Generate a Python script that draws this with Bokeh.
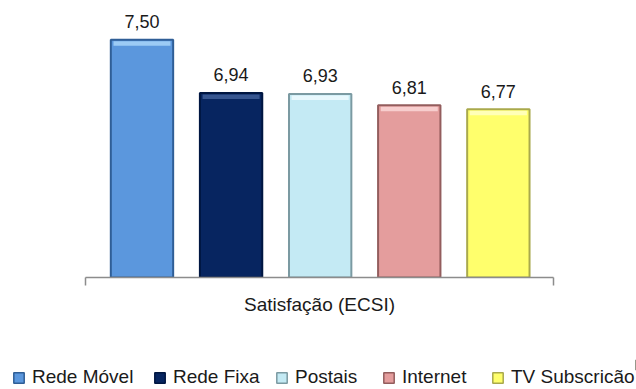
from bokeh.plotting import figure
from bokeh.layouts import column
from bokeh.models import (ColumnDataSource, Range1d, LinearAxis, FixedTicker,
                          Legend, LegendItem)
from bokeh.core.properties import value
from bokeh.embed import file_html
from bokeh.resources import INLINE

# Satisfação (ECSI) por serviço
categorias = ["Rede Móvel", "Rede Fixa", "Postais", "Internet", "TV Subscricão"]
satisfacao = [7.50, 6.94, 6.93, 6.81, 6.77]

cores = ["#5B97DD", "#072560", "#C4EAF4", "#E49D9D", "#FFFF6C"]
contornos = ["#2F5E96", "#001641", "#7B9AA2", "#935D5D", "#A9A94C"]
realces = ["#A3D0F7", "#3D5C96", "#ECFAFE", "#F8D4D4", "#FFFFC0"]

FONT = value("Liberation Sans")
BASE = 5.0
TOPO = 7.912
X0, X1 = 0.366, 5.619

p = figure(width=636, height=340, output_backend="svg", toolbar_location=None,
           x_range=Range1d(X0, X1), y_range=Range1d(BASE, TOPO),
           x_axis_location=None, y_axis_location=None,
           min_border_left=85, min_border_right=83,
           min_border_top=0, min_border_bottom=63)
p.frame_align = False
p.outline_line_color = None
p.xgrid.visible = False
p.ygrid.visible = False

posicoes = list(range(1, len(categorias) + 1))
px_por_unidade = 277 / (TOPO - BASE)

for i, v in enumerate(satisfacao):
    x = posicoes[i]
    p.vbar(x=[x], top=[v], bottom=BASE - 0.03, width=0.70,
           fill_color=cores[i], line_color=contornos[i], line_width=2)
    # faixa de brilho no topo da barra
    p.vbar(x=[x], top=[v - 1.5 / px_por_unidade], bottom=[v - 6 / px_por_unidade],
           width=0.64, fill_color=realces[i], line_color=None, fill_alpha=0.9)

rotulos = [f"{v:.2f}".replace(".", ",") for v in satisfacao]
src = ColumnDataSource(dict(x=posicoes, y=satisfacao, t=rotulos))
p.text(x="x", y="y", text="t", source=src, text_align="center",
       text_baseline="alphabetic", y_offset=-18, text_font=FONT,
       text_font_size="18px", text_color="#1A1A1A")

# eixo horizontal: linha de base com traços só nas extremidades
eixo = LinearAxis(ticker=FixedTicker(ticks=[], minor_ticks=[X0, X1]))
eixo.axis_line_color = "#8C8C8C"
eixo.axis_line_width = 1.5
eixo.major_tick_line_color = None
eixo.minor_tick_line_color = "#8C8C8C"
eixo.minor_tick_line_width = 1.5
eixo.minor_tick_out = 8
eixo.minor_tick_in = 0
eixo.axis_label = "Satisfação (ECSI)"
eixo.axis_label_text_font = "Liberation Sans"
eixo.axis_label_text_font_style = "normal"
eixo.axis_label_text_font_size = "19px"
eixo.axis_label_text_color = "#1A1A1A"
eixo.axis_label_standoff = 8
p.add_layout(eixo, "below")

# legenda numa faixa própria por baixo do gráfico
leg = figure(width=636, height=49, output_backend="svg", toolbar_location=None,
             x_range=Range1d(0, 1), y_range=Range1d(0, 1),
             x_axis_location=None, y_axis_location=None,
             min_border=0)
leg.frame_align = False
leg.outline_line_color = None
leg.xgrid.visible = False
leg.ygrid.visible = False

inicio_itens = [12, 153, 275, 382, 491]
for i, cat in enumerate(categorias):
    # barra fora da área visível; só serve de amostra para a legenda
    r = leg.vbar(x=[3], top=[0.6], bottom=[0.4], width=0.1, fill_color=cores[i],
                 line_color=contornos[i], line_width=1.5)
    legenda = Legend(items=[LegendItem(label=cat, renderers=[r])],
                     location=(inicio_itens[i], 1),
                     glyph_width=13, glyph_height=13, label_standoff=7,
                     padding=0, margin=0, border_line_color=None,
                     background_fill_alpha=0,
                     label_text_font="Liberation Sans",
                     label_text_font_size="19px",
                     label_text_color="#1A1A1A")
    leg.add_layout(legenda, "center")

open("out.html", "w").write(file_html(column(p, leg, spacing=0), INLINE))
